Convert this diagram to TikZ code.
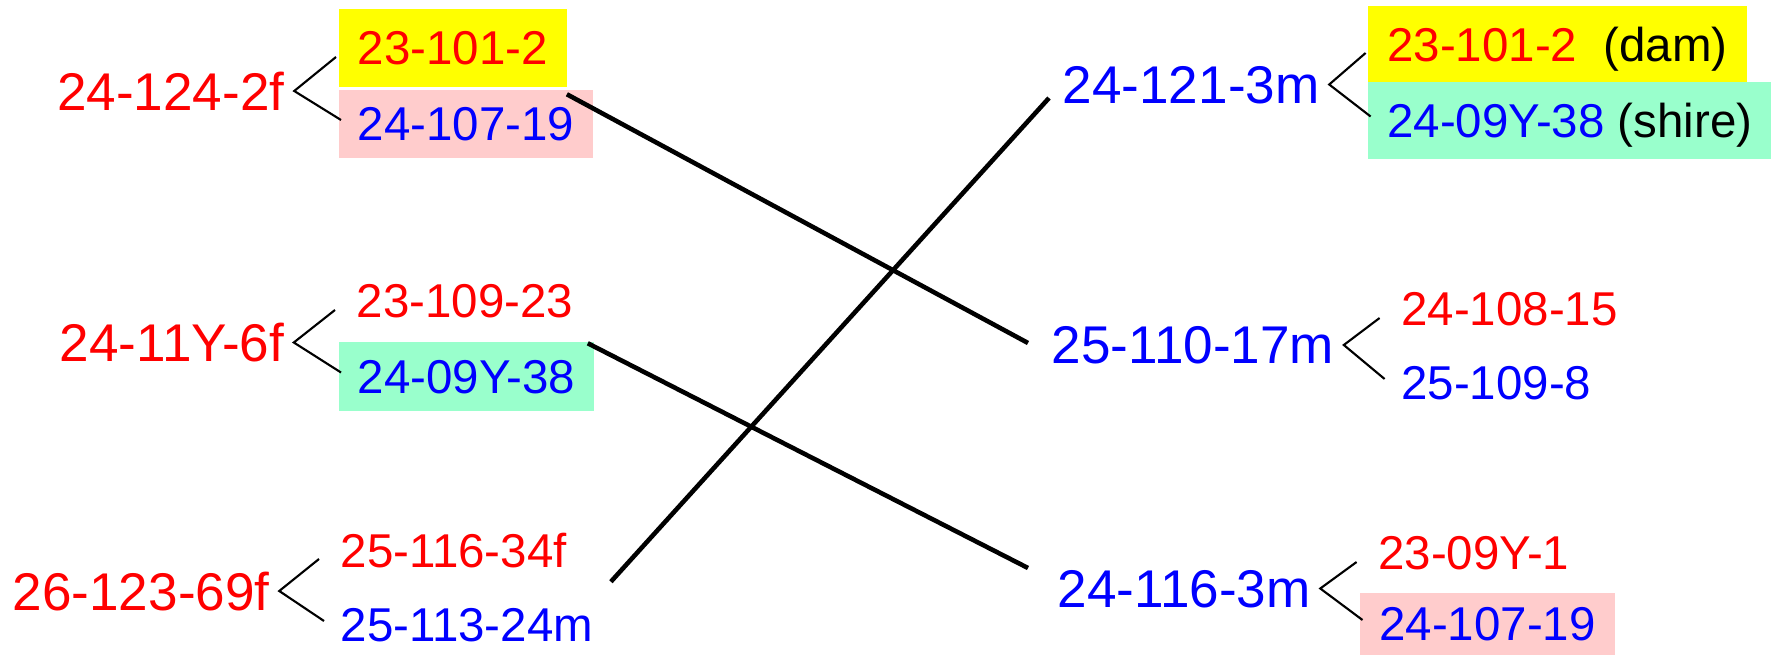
\documentclass[tikz,border=0pt]{standalone}
\usepackage{fontspec}
\setmainfont{Liberation Sans}
\usepackage{xcolor}
\usepackage{tikz}
\usetikzlibrary{calc}
\definecolor{pedred}{HTML}{FF0000}
\definecolor{pedblue}{HTML}{0000FF}
\definecolor{pedyellow}{HTML}{FFFF00}
\definecolor{pedpink}{HTML}{FFCCCC}
\definecolor{pedgreen}{HTML}{99FFCC}

\begin{document}
\begin{tikzpicture}[
  x=0.01cm,y=-0.01cm,
  parent/.style={font=\fontsize{15.1}{18}\selectfont,anchor=west,inner xsep=0.09cm,inner ysep=0pt,text depth=0pt},
  kid/.style={font=\fontsize{13.5}{16}\selectfont,anchor=west,inner xsep=0.19cm,inner ysep=0pt,text depth=0pt},
  dambox/.style={kid,fill=pedyellow},
  pinkbox/.style={kid,fill=pedpink},
  greenbox/.style={kid,fill=pedgreen},
  fork/.style={line width=0.6pt},
  link/.style={line width=1.3pt,draw=black}
]
  \useasboundingbox (0,0) rectangle (1781,655);

  \node[parent,text=pedred] (l1) at (47.5,91) {24-124-2f};
  \node[dambox,text=pedred,minimum height=0.78cm] (l1a) at (338,48) {23-101-2};
  \node[pinkbox,text=pedblue,minimum height=0.68cm] (l1b) at (338,124) {24-107-19};

  \node[parent,text=pedred] (l2) at (50,342.5) {24-11Y-6f};
  \node[kid,text=pedred] (l2a) at (337,301) {23-109-23};
  \node[greenbox,text=pedblue,minimum height=0.69cm] (l2b) at (338,376.5) {24-09Y-38};

  \node[parent,text=pedred] (l3) at (3,591) {26-123-69f};
  \node[kid,text=pedred] (l3a) at (321,550) {25-116-34f};
  \node[kid,text=pedblue] (l3b) at (321,625) {25-113-24m};

  \node[parent,text=pedblue] (r1) at (1053,84.5) {24-121-3m};
  \node[dambox,text=black,minimum height=0.76cm] (r1a) at (1367.6,44) {\textcolor{pedred}{23-101-2}~~(dam)};
  \node[greenbox,text=black,minimum height=0.77cm] (r1b) at (1367.6,120.5) {\textcolor{pedblue}{24-09Y-38} (shire)};

  \node[parent,text=pedblue] (r2) at (1042,345) {25-110-17m};
  \node[kid,text=pedred] (r2a) at (1381.6,309) {24-108-15};
  \node[kid,text=pedblue] (r2b) at (1381.6,383) {25-109-8};

  \node[parent,text=pedblue] (r3) at (1048,588.5) {24-116-3m};
  \node[kid,text=pedred] (r3a) at (1358.6,553) {23-09Y-1};
  \node[pinkbox,text=pedblue,minimum height=0.62cm] (r3b) at (1359.5,624) {24-107-19};

  \foreach \p/\a/\b in {l1/l1a/l1b,l2/l2a/l2b,l3/l3a/l3b,r1/r1a/r1b,r2/r2a/r2b,r3/r3a/r3b}
    \draw[fork] ($(\a.west)+(-2,9)$) -- (\p.east) -- ($(\b.west)+(3,-4)$);

  \draw[link] ($(l1b.north east)+(-27,5)$) -- ($(r2.west)+(-14,-2)$);
  \draw[link] ($(r1.west)+(-4,13.5)$) -- ($(l3b.north east)+(-2,-26)$);
  \draw[link] ($(l2b.north east)+(-7,2)$) -- ($(r3.west)+(-20,-20.5)$);
\end{tikzpicture}
\end{document}
